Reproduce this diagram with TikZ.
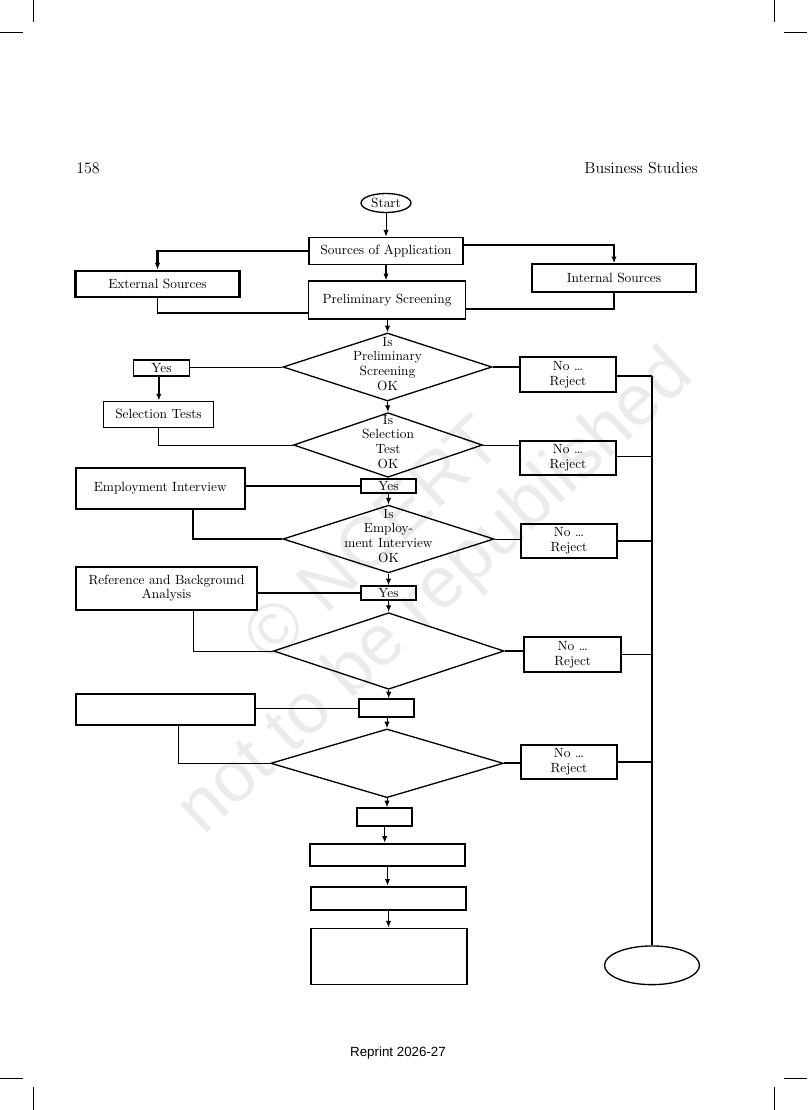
\documentclass[tikz,border=0pt]{standalone}
\usepackage{fontspec}
\newfontfamily\sansfont{Liberation Sans}
\usetikzlibrary{shapes.geometric,arrows.meta}
\newcommand\pxu{0.75pt}

\begin{document}
\begin{tikzpicture}[x=0.75pt,y=-0.75pt,
    >={Latex[length=5pt,width=4pt]},
    font=\fontsize{10}{11}\selectfont,
    box/.style={draw,line width=1.1pt,inner sep=0pt,align=center},
    thinbox/.style={box,line width=0.7pt},
    thickbox/.style={box,line width=1.6pt},
    query/.style={draw,diamond,line width=1pt,inner sep=0pt},
    qtext/.style={align=center,inner sep=0pt,yshift=2.5pt},
    link/.style={line width=0.7pt},
    heavy/.style={line width=1.6pt},
    crop/.style={line width=0.6pt},
    wmark/.style={text=gray!16,font=\sansfont\fontsize{54}{60}\selectfont,rotate=43}]
      \useasboundingbox (0,0) rectangle (807,1110);

      % watermark
      \node[wmark] (wm1) at (372,538) {© NCERT};
      \node[wmark] (wm2) at (437,594) {not to be republished};

      % crop marks
      \draw[crop] (33,0) -- (33,22);   \draw[crop] (0,32) -- (23,32);
      \draw[crop] (774,0) -- (774,22); \draw[crop] (784,32) -- (807,32);
      \draw[crop] (0,1078) -- (23,1078);   \draw[crop] (784,1078) -- (807,1078);
      \draw[crop] (33,1087) -- (33,1110); \draw[crop] (774,1087) -- (774,1110);

      % running head and foot
      \node[anchor=west,inner sep=0pt,font=\large] (pgno) at (76,168) {158};
      \node[anchor=east,inner sep=0pt,font=\large] (runhead) at (698,168) {Business Studies};
      \node[font=\sansfont\fontsize{10}{12}\selectfont] (reprint) at (398,1053) {Reprint 2026-27};

      % boxes
      \node[draw,ellipse,line width=1pt,inner sep=0pt,minimum width=50*\pxu,minimum height=19*\pxu] (start) at (386,203) {Start};
      \node[box,minimum width=154*\pxu,minimum height=27*\pxu] (src) at (386,250.8) {Sources of Application};
      \node[thickbox,minimum width=164*\pxu,minimum height=26.6*\pxu] (ext) at (157.5,284) {External Sources};
      \node[thickbox,minimum width=164*\pxu,minimum height=27.4*\pxu] (int) at (614,278) {Internal Sources};
      \node[box,minimum width=157*\pxu,minimum height=38*\pxu] (pre) at (387,300) {Preliminary Screening};

      \node[query,minimum width=209*\pxu,minimum height=68*\pxu,
            label={[qtext]center:{Is\\Preliminary\\Screening\\OK}}] (d1) at (387.5,367) {};
      \node[thickbox,line width=1.3pt,minimum width=56*\pxu,minimum height=16*\pxu] (yes1) at (161.5,368) {Yes};
      \node[thinbox,minimum width=110*\pxu,minimum height=26*\pxu] (sel) at (158.5,414) {Selection Tests};
      \node[box,line width=1.3pt,minimum width=96*\pxu,minimum height=34.5*\pxu] (rej1) at (568,374.5) {No \dots\\Reject};

      \node[query,minimum width=189*\pxu,minimum height=64.6*\pxu,
            label={[qtext]center:{Is\\Selection\\Test\\OK}}] (d2) at (388,445) {};
      \node[box,line width=1.3pt,minimum width=96*\pxu,minimum height=34*\pxu] (rej2) at (568,458) {No \dots\\Reject};
      \node[box,line width=1.3pt,minimum width=55*\pxu,minimum height=14.6*\pxu] (yes2) at (388.5,486) {Yes};
      \node[thickbox,minimum width=169.4*\pxu,minimum height=41.3*\pxu] (emp) at (160.3,488.3) {Employment Interview};

      \node[query,minimum width=211*\pxu,minimum height=67.7*\pxu,
            label={[qtext]center:{Is\\Employ-\\ment Interview\\OK}}] (d3) at (388.5,539) {};
      \node[box,line width=1.3pt,minimum width=96*\pxu,minimum height=34*\pxu] (rej3) at (569,541) {No \dots\\Reject};
      \node[box,minimum width=55*\pxu,minimum height=14*\pxu] (yes3) at (388.5,593) {Yes};
      \node[box,line width=1.4pt,minimum width=181.7*\pxu,minimum height=43.3*\pxu] (ref) at (166.5,588.3) {Reference and Background\\Analysis};

      \node[query,minimum width=230.6*\pxu,minimum height=76.6*\pxu] (d4) at (388.7,651) {};
      \node[box,line width=1.3pt,minimum width=96.7*\pxu,minimum height=35*\pxu] (rej4) at (572.7,654.8) {No \dots\\Reject};
      \node[box,line width=1.4pt,minimum width=55*\pxu,minimum height=18*\pxu] (blank5) at (386.5,708.3) {};
      \node[box,line width=1.4pt,minimum width=179.4*\pxu,minimum height=30.7*\pxu] (bigl) at (165.3,709.7) {};

      \node[query,minimum width=232.6*\pxu,minimum height=68.7*\pxu] (d5) at (387,763.3) {};
      \node[box,minimum width=96*\pxu,minimum height=34.3*\pxu] (rej5) at (569,762) {No \dots\\Reject};
      \node[box,line width=1.4pt,minimum width=54.7*\pxu,minimum height=17.7*\pxu] (box6) at (384.7,817) {};
      \node[box,line width=1.4pt,minimum width=155*\pxu,minimum height=22.6*\pxu] (box7) at (387.5,855) {};
      \node[box,line width=1.4pt,minimum width=155*\pxu,minimum height=23.3*\pxu] (box8) at (388.5,898.3) {};
      \node[box,minimum width=155.7*\pxu,minimum height=56*\pxu] (box9) at (389,956.3) {};
      \node[draw,ellipse,line width=1pt,inner sep=0pt,minimum width=95*\pxu,minimum height=38.7*\pxu] (stop) at (652,965.3) {};

      % top part
      \draw[->,link] (start) -- (src);
      \draw[->,heavy] (src.west) -| (ext.north);
      \draw[->,heavy] ([yshift=4.3pt]src.east) -| (int.north);
      \draw[->,line width=0.9pt] (src.south) -- (src.south |- pre.north);
      \draw[line width=1.1pt] (ext.south) |- ([yshift=-9.7pt]pre.west);
      \draw[heavy] ([yshift=-6.5pt]pre.east) -| (int.south);
      \draw[->,link] (pre.south) -- (pre.south -| d1.north) -- (d1.north);

      % checks down the middle
      \draw[link] (d1.west) -- (d1.west -| yes1.east);
      \draw[->,heavy] ([xshift=-2pt]yes1.south) -- ([xshift=-2pt]yes1.south |- sel.north);
      \draw[heavy] (d1.east) -- (d1.east -| rej1.west);
      \draw[->,link] (d1.south) -- (d2.north);
      \draw[link] (sel.south) |- (d2.west);
      \draw[link] (d2.east) -- (d2.east -| rej2.west);
      \draw[link] (d2.south) -- (yes2.north);
      \draw[heavy] (emp.east |- yes2.west) -- (yes2.west);
      \draw[->,link] (yes2.south) -- (d3.north);
      \draw[line width=1.1pt] ([xshift=24.5pt]emp.south) |- (d3.west);
      \draw[link] (d3.east) -- (d3.east -| rej3.west);
      \draw[->,link] (d3.south) -- (yes3.north);
      \draw[heavy] (ref.east |- yes3.west) -- (yes3.west);
      \draw[->,link] (yes3.south) -- (d4.north);
      \draw[link] ([xshift=19.9pt]ref.south) |- (d4.west);
      \draw[heavy] (d4.east) -- (d4.east -| rej4.west);
      \draw[->,link] (d4.south) -- (d4.south |- blank5.north);
      \draw[link] (bigl.east |- blank5.west) -- (blank5.west);
      \draw[link] ([xshift=9.75pt]bigl.south) |- (d5.west);
      \draw[->,link] (blank5.south) -- (blank5.south -| d5.north) -- (d5.north);
      \draw[heavy] (d5.east) -- (d5.east -| rej5.west);
      \draw[->,link] (d5.south) -- (d5.south |- box6.north);
      \draw[->,line width=0.9pt] (box6.south) -- (box6.south |- box7.north);
      \draw[->,line width=0.9pt] (box7.south) -- (box7.south |- box8.north);
      \draw[->,line width=0.9pt] (box8.south) -- (box8.south |- box9.north);

      % rejects to the stop
      \draw[heavy] ([yshift=-0.9pt]rej1.east) -- ([yshift=-0.9pt]rej1.east -| stop.north) coordinate (bustop);
      \draw[link] ([yshift=1pt]rej2.east) -- ([yshift=1pt]rej2.east -| stop.north);
      \draw[heavy] (rej3.east) -- (rej3.east -| stop.north);
      \draw[link] (rej4.east) -- (rej4.east -| stop.north);
      \draw[heavy] (rej5.east) -- (rej5.east -| stop.north);
      \draw[heavy] (bustop) -- (stop.north);
    \end{tikzpicture}
\end{document}
